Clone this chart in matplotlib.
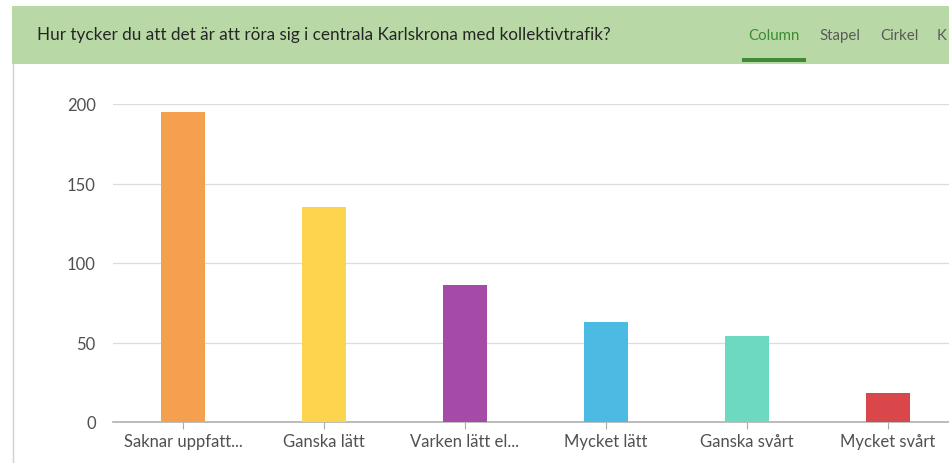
import matplotlib
matplotlib.use("Agg")
import matplotlib.pyplot as plt
from matplotlib.patches import Rectangle
from matplotlib.lines import Line2D

categories = ["Saknar uppfatt...", "Ganska lätt", "Varken lätt el...", "Mycket lätt", "Ganska svårt", "Mycket svårt"]
values = [195, 135, 86, 63, 54, 18]
colors = ["#f4a04f", "#fdd44e", "#a54aa6", "#4cbbe3", "#6cd9c0", "#d9474a"]
yticks = [0, 50, 100, 150, 200]
title = "Hur tycker du att det är att röra sig i centrala Karlskrona med kollektivtrafik?"
tabs = ["Column", "Stapel", "Cirkel", "K"]

W, H = 949, 464
fig = plt.figure(figsize=(W / 100, H / 100), dpi=100)
fig.patch.set_facecolor("white")

def fx(px):
    return px / W

def fy(py):
    return 1 - py / H

# header band
fig.patches.append(Rectangle((fx(12), fy(65)), 1 - fx(12), fy(7) - fy(65),
                             transform=fig.transFigure, facecolor="#b8d9a5", edgecolor="none", zorder=0))
# left border
fig.lines.append(Line2D([fx(12.5), fx(12.5)], [fy(65), 0], transform=fig.transFigure, color="#d0d0d0", lw=1))
fig.text(fx(37), fy(35), title, fontsize=12.3, color="#262626", va="center", ha="left", family="Lato")
tab_x = [748, 819, 880, 937]
for i, (t, x) in enumerate(zip(tabs, tab_x)):
    fig.text(fx(x), fy(36), t, fontsize=10.8, color="#3f8a35" if i == 0 else "#5a5a5a",
             va="center", ha="left", family="Lato")
fig.patches.append(Rectangle((fx(742), fy(63)), fx(806) - fx(742), fy(59) - fy(63),
                             transform=fig.transFigure, facecolor="#3f8a35", edgecolor="none"))

# axes: category spacing 141 px, first center at 183
left = 112.5
right = left + 141 * len(categories)
y0, y200 = 423, 105
ax = fig.add_axes([fx(left), fy(y0), fx(right) - fx(left), fy(y200) - fy(y0)])
ax.set_ylim(0, 200)
ax.set_xlim(-0.5, len(categories) - 0.5)
ax.patch.set_alpha(0)

x = list(range(len(categories)))
ax.bar(x, values, width=0.31, color=colors, zorder=3)
ax.set_yticks(yticks)
ax.set_yticklabels([str(v) for v in yticks], fontsize=12, color="#505050", family="Lato")
ax.set_xticks(x)
ax.set_xticklabels(categories, fontsize=12, color="#505050", family="Lato")
ax.grid(axis="y", color="#dcdcdc", lw=0.9, zorder=0)
ax.tick_params(axis="y", length=0, pad=12)
ax.tick_params(axis="x", length=5, color="#aaaaaa", pad=3)
for s in ["top", "right", "left"]:
    ax.spines[s].set_visible(False)
ax.spines["bottom"].set_color("#b0b0b0")
ax.spines["bottom"].set_linewidth(1.2)

fig.savefig("out.png", dpi=100, facecolor="white")
